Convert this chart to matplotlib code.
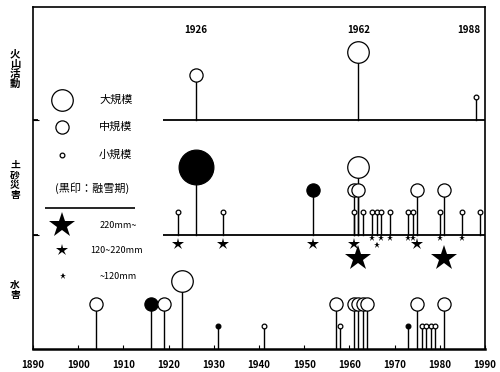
import matplotlib.pyplot as plt

plt.rcParams['font.family'] = ['Noto Sans CJK JP', 'DejaVu Sans']

# ---- data ----
# 火山活動
vol_years = [1926, 1962, 1988]
vol_size = ['中', '大', '小']
vol_black = [0, 0, 0]

# 土砂災害
sed_years = [1922, 1926, 1932, 1952, 1961, 1961, 1962, 1962, 1963, 1965,
             1966, 1967, 1969, 1973, 1974, 1975, 1980, 1981, 1985, 1989]
sed_size = ['小', '特大', '小', '中', '中', '小', '中', '大', '小', '小',
            '小', '小', '小', '小', '小', '中', '小', '中', '小', '小']
sed_black = [0, 1, 0, 1, 0, 0, 0, 0, 0, 0,
             0, 0, 0, 0, 0, 0, 0, 0, 0, 0]

# 降雨量 (星印)
rain_years = [1922, 1932, 1952, 1961, 1962, 1965, 1966, 1967, 1969, 1973,
              1974, 1975, 1980, 1981, 1985]
rain_class = ['中', '中', '中', '中', '大', '小', '小', '小', '小', '小',
              '小', '中', '小', '大', '小']

# 水害
water_years = [1904, 1916, 1919, 1923, 1931, 1941, 1957, 1958, 1961, 1962,
               1963, 1964, 1973, 1975, 1976, 1977, 1978, 1979, 1981]
water_size = ['中', '中', '中', '大', '小', '小', '中', '小', '中', '中',
              '中', '中', '小', '中', '小', '小', '小', '小', '中']
water_black = [0, 1, 0, 0, 1, 0, 0, 0, 0, 0,
               0, 0, 1, 0, 0, 0, 0, 0, 0]

xticks = list(range(1890, 1991, 10))
vol_labels = ['1926', '1962', '1988']

# ---- styles ----
height = {'小': 23, '中': 45, '大': 68, '特大': 68}
msize = {'小': 3.4, '中': 9.5, '大': 15.5, '特大': 25}
star_ms = {'小': 4.5, '中': 9, '大': 19}
star_dy = {'小': 3, '中': 9, '大': 23}

base_vol, base_sed, base_water = 229, 114, 0

fig = plt.figure(figsize=(5, 3.72), dpi=100)
ax = fig.add_axes([0.066, 0.0618, 0.904, 0.919])
ax.set_xlim(1890, 1990)
ax.set_ylim(0, 342)


def draw_events(years, sizes, black, base):
    for yr, s, b in zip(years, sizes, black):
        h = height[s]
        ax.plot([yr, yr], [base, base + h], color='black', lw=1.0, zorder=2)
        ax.plot(yr, base + h, 'o', ms=msize[s], mfc='black' if b else 'white',
                mec='black', mew=0.9, zorder=3)


draw_events(vol_years, vol_size, vol_black, base_vol)
draw_events(sed_years, sed_size, sed_black, base_sed)
draw_events(water_years, water_size, water_black, base_water)

lower = {1966}
for yr, c in zip(rain_years, rain_class):
    dy = star_dy[c] + (7 if yr in lower else 0)
    ax.plot(yr, base_sed - dy, '*', ms=star_ms[c], color='black', mew=0, zorder=3)

# divider lines
ax.hlines([base_vol, base_sed], 1918.8, 1990, color='black', lw=1.3)
ax.hlines([base_vol, base_sed], 1890, 1891.2, color='black', lw=1.3)

# labels of volcano years
for i, (yr, t) in enumerate(zip(vol_years, vol_labels)):
    ha = 'right' if i == len(vol_years) - 1 else 'center'
    xx = yr + 0.9 if ha == 'right' else yr
    ax.text(xx, 319, t, ha=ha, va='center', fontsize=7, fontweight='bold')

# legend
lx, tx = 1896.4, 1904.6
ax.plot(lx, 249, 'o', ms=15.5, mfc='white', mec='black', mew=0.9)
ax.plot(lx, 222, 'o', ms=9.5, mfc='white', mec='black', mew=0.9)
ax.plot(lx, 194, 'o', ms=3.4, mfc='white', mec='black', mew=0.9)
ax.text(tx, 249, '大規模', va='center', fontsize=8)
ax.text(tx, 222, '中規模', va='center', fontsize=8)
ax.text(tx, 194, '小規模', va='center', fontsize=8)
ax.text(1903.0, 161, '(黒印：融雪期)', ha='center', va='center', fontsize=8)
ax.hlines(141, 1892.7, 1912.6, color='black', lw=1.2)
ax.plot(lx, 124, '*', ms=19, color='black', mew=0)
ax.plot(lx, 99, '*', ms=9, color='black', mew=0)
ax.plot(lx + 0.2, 73, '*', ms=4.5, color='black', mew=0)
ax.text(tx + 0.2, 124, '220mm~', va='center', fontsize=6.5)
ax.text(1902.6, 99, '120~220mm', va='center', fontsize=6.5)
ax.text(tx + 0.2, 73, '~120mm', va='center', fontsize=6.5)

# category labels
for txt, yy, fs in [('火山活動', 0.814, 7.5), ('土砂災害', 0.516, 7), ('水害', 0.22, 7)]:
    fig.text(0.03, yy, '\n'.join(txt), ha='center', va='center',
             fontsize=fs, fontweight='bold', linespacing=1.0)

ax.set_xticks(xticks)
ax.set_xticklabels([str(t) for t in xticks], fontsize=7, fontweight='bold')
ax.tick_params(axis='x', direction='in', length=3, pad=8)
ax.set_yticks([base_vol, base_sed])
ax.set_yticklabels([])
ax.tick_params(axis='y', direction='in', length=4)
for sp in ax.spines.values():
    sp.set_linewidth(1.2)
ax.spines['bottom'].set_linewidth(1.8)

fig.savefig('out.png', dpi=100)
